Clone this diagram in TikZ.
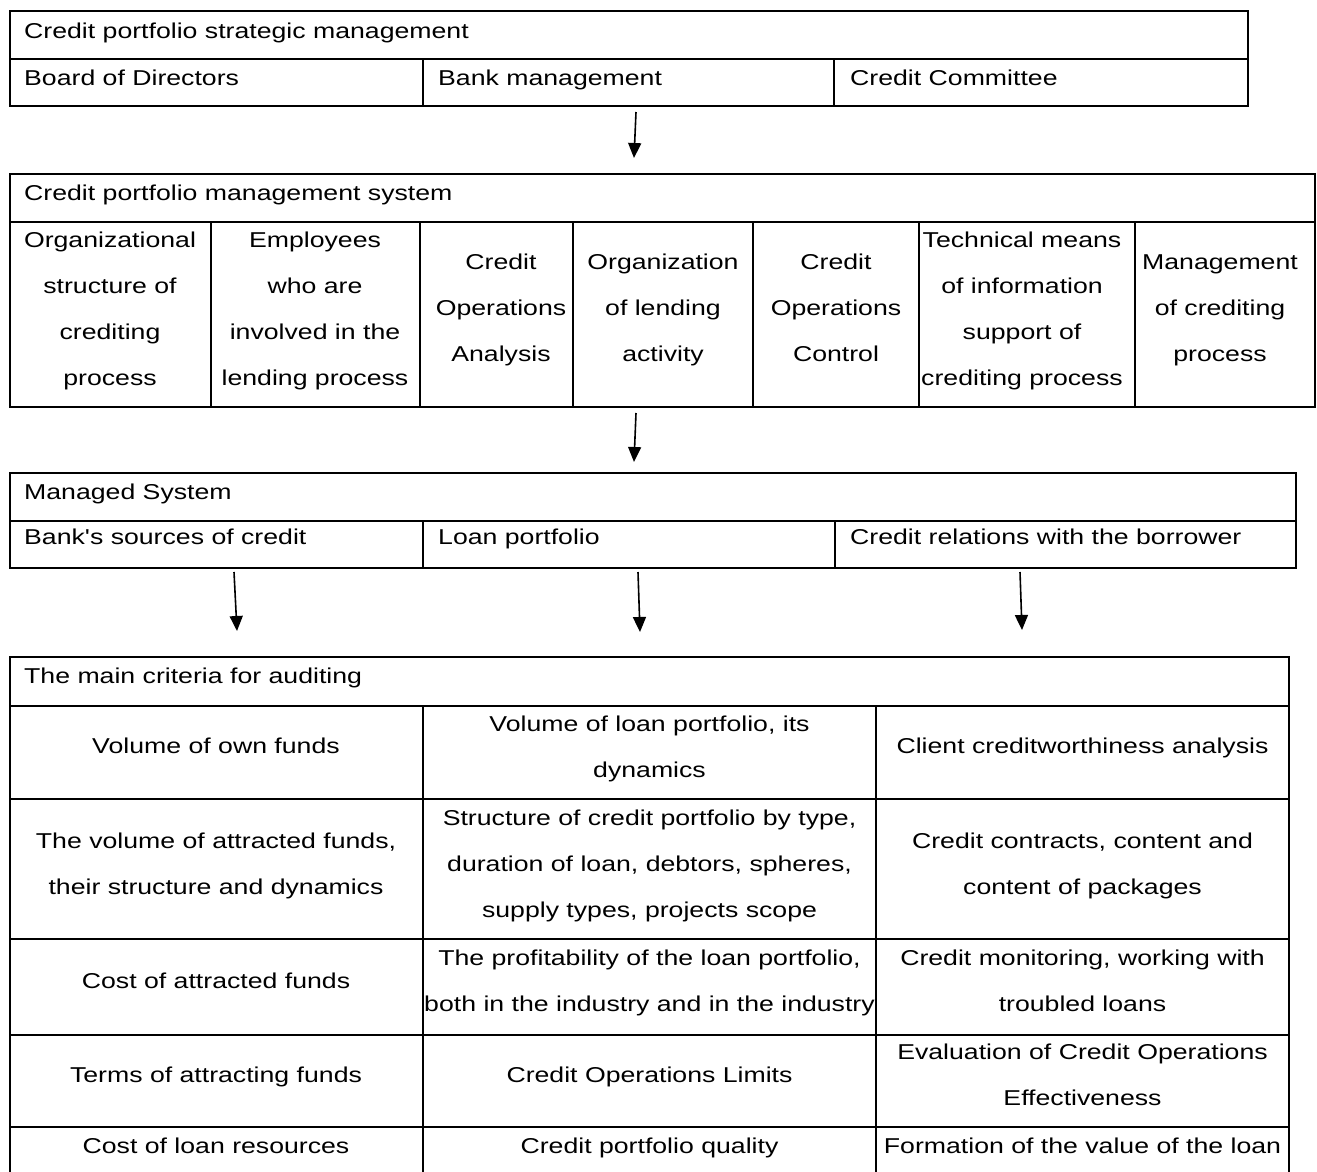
\documentclass[tikz,border=0pt]{standalone}
\usepackage{fontspec}
\setmainfont{Liberation Sans}[FakeStretch=1.24, Ligatures=TeXOff]
\usetikzlibrary{arrows.meta}
\newcommand\fsz{\fontsize{21.5}{46}\selectfont}
\begin{document}
\begin{tikzpicture}[x=1pt,y=-1pt,
  frame/.style={line width=1.8pt},
  ttl/.style={anchor=base west, inner sep=0, font=\fsz},
  cel/.style={anchor=base, inner sep=0, align=center, font=\fsz},
  arr/.style={line width=1.6pt, -{Triangle[width=13pt,length=15pt]}}]
\useasboundingbox (0,0) rectangle (1317,1171);
\fill[white] (0,0) rectangle (1317,1171);
% ---------- table 1
\draw[frame] (10,11) rectangle (1248,106);
\draw[frame] (10,59) -- (1248,59);
\draw[frame] (423,59) -- (423,106) (834,59) -- (834,106);
\node[ttl] (t1) at (24,38) {Credit portfolio strategic management};
\node[ttl] (t1a) at (24,85) {Board of Directors};
\node[ttl] (t1b) at (438,85) {Bank management};
\node[ttl] (t1c) at (850,85) {Credit Committee};
% arrow 1
\coordinate (a1s) at (636,112);
\coordinate (a1e) at (634,158);
\draw[arr] (a1s) -- (a1e);
% ---------- table 2
\draw[frame] (10,174) rectangle (1315,407);
\draw[frame] (10,222) -- (1315,222);
\foreach \x in {211,420,573,753,919,1135} \draw[frame] (\x,222) -- (\x,407);
\node[ttl] (t2) at (24,200) {Credit portfolio management system};
% multi-line cells: base anchor = baseline of the last line
\node[cel] (s1) at (110,385) {Organizational\\structure of\\crediting\\process};
\node[cel] (s2) at (315,385) {Employees\\who are\\involved in the\\lending process};
\node[cel] (s3) at (501,361) {Credit\\Operations\\Analysis};
\node[cel] (s4) at (663,361) {Organization\\of lending\\activity};
\node[cel] (s5) at (836,361) {Credit\\Operations\\Control};
\node[cel] (s6) at (1022,385) {Technical means\\of information\\support of\\crediting process};
\node[cel] (s7) at (1220,361) {Management\\of crediting\\process};
% arrow 2
\coordinate (a2s) at (636,413);
\coordinate (a2e) at (634,462);
\draw[arr] (a2s) -- (a2e);
% ---------- table 3
\draw[frame] (10,473) rectangle (1296,568);
\draw[frame] (10,521) -- (1296,521);
\draw[frame] (423,521) -- (423,568) (835,521) -- (835,568);
\node[ttl] (t3) at (24,499) {Managed System};
\node[ttl] (m1) at (24,544) {Bank's sources of credit};
\node[ttl] (m2) at (438,544) {Loan portfolio};
\node[ttl] (m3) at (850,544) {Credit relations with the borrower};
% arrows 3
\coordinate (b1s) at (234,572); \coordinate (b1e) at (237,631);
\coordinate (b2s) at (638,572); \coordinate (b2e) at (640,632);
\coordinate (b3s) at (1020,572); \coordinate (b3e) at (1022,630);
\draw[arr] (b1s) -- (b1e);
\draw[arr] (b2s) -- (b2e);
\draw[arr] (b3s) -- (b3e);
% ---------- table 4
\draw[frame] (10,1175) -- (10,657) -- (1289,657) -- (1289,1175);
\foreach \y in {706,799,939,1035,1127} \draw[frame] (10,\y) -- (1289,\y);
\draw[frame] (423,706) -- (423,1175) (876,706) -- (876,1175);
\node[ttl] (t4) at (24,683) {The main criteria for auditing};
\node[cel] (r1a) at (216,753) {Volume of own funds};
\node[cel] (r1b) at (649.5,777) {Volume of loan portfolio, its\\dynamics};
\node[cel] (r1c) at (1082.5,753) {Client creditworthiness analysis};
\node[cel] (r2a) at (216,894) {The volume of attracted funds,\\their structure and dynamics};
\node[cel] (r2b) at (649.5,917) {Structure of credit portfolio by type,\\duration of loan, debtors, spheres,\\supply types, projects scope};
\node[cel] (r2c) at (1082.5,894) {Credit contracts, content and\\content of packages};
\node[cel] (r3a) at (216,988) {Cost of attracted funds};
\node[cel] (r3b) at (649.5,1011) {The profitability of the loan portfolio,\\both in the industry and in the industry};
\node[cel] (r3c) at (1082.5,1011) {Credit monitoring, working with\\troubled loans};
\node[cel] (r4a) at (216,1082) {Terms of attracting funds};
\node[cel] (r4b) at (649.5,1082) {Credit Operations Limits};
\node[cel] (r4c) at (1082.5,1105) {Evaluation of Credit Operations\\Effectiveness};
\node[cel] (r5a) at (216,1153) {Cost of loan resources};
\node[cel] (r5b) at (649.5,1153) {Credit portfolio quality};
\node[cel] (r5c) at (1082.5,1153) {Formation of the value of the loan};
\end{tikzpicture}
\end{document}
